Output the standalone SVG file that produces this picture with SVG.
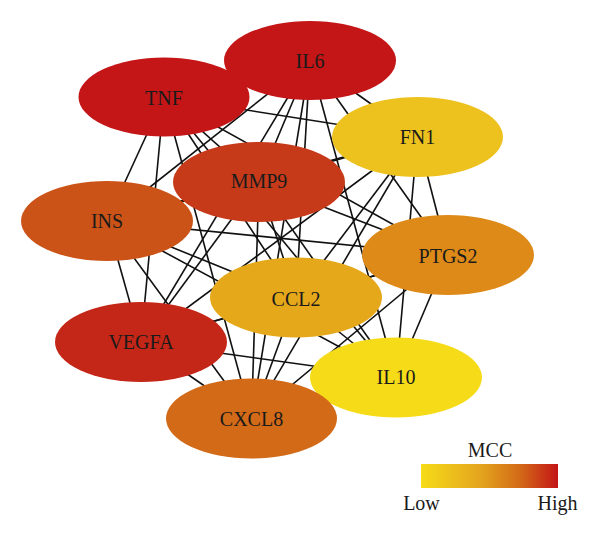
<svg xmlns="http://www.w3.org/2000/svg" width="600" height="537" viewBox="0 0 600 537">
<style>
.e{stroke:#111;stroke-width:1.6;fill:none}
.lbl{font-family:"Liberation Serif","DejaVu Serif",serif;font-size:20px;fill:#1a1a1a;text-anchor:middle}
</style>
<defs>
<linearGradient id="mcc" x1="0" y1="0" x2="1" y2="0">
<stop offset="0" stop-color="#F6DC18"/>
<stop offset="0.45" stop-color="#E3A21E"/>
<stop offset="0.72" stop-color="#D36A17"/>
<stop offset="1" stop-color="#C41517"/>
</linearGradient>
</defs>
<rect width="600" height="537" fill="#fff"/>
<g id="edges">
<line class="e" x1="310" y1="60.5" x2="164" y2="97"/>
<line class="e" x1="310" y1="60.5" x2="417.5" y2="137"/>
<line class="e" x1="310" y1="60.5" x2="259" y2="182"/>
<line class="e" x1="310" y1="60.5" x2="107" y2="221"/>
<line class="e" x1="310" y1="60.5" x2="448" y2="255"/>
<line class="e" x1="310" y1="60.5" x2="296" y2="297.5"/>
<line class="e" x1="310" y1="60.5" x2="141" y2="342"/>
<line class="e" x1="310" y1="60.5" x2="396" y2="377.5"/>
<line class="e" x1="310" y1="60.5" x2="251.5" y2="418.5"/>
<line class="e" x1="164" y1="97" x2="417.5" y2="137"/>
<line class="e" x1="164" y1="97" x2="259" y2="182"/>
<line class="e" x1="164" y1="97" x2="107" y2="221"/>
<line class="e" x1="164" y1="97" x2="448" y2="255"/>
<line class="e" x1="164" y1="97" x2="296" y2="297.5"/>
<line class="e" x1="164" y1="97" x2="141" y2="342"/>
<line class="e" x1="164" y1="97" x2="396" y2="377.5"/>
<line class="e" x1="164" y1="97" x2="251.5" y2="418.5"/>
<line class="e" x1="417.5" y1="137" x2="259" y2="182"/>
<line class="e" x1="417.5" y1="137" x2="107" y2="221"/>
<line class="e" x1="417.5" y1="137" x2="448" y2="255"/>
<line class="e" x1="417.5" y1="137" x2="296" y2="297.5"/>
<line class="e" x1="417.5" y1="137" x2="141" y2="342"/>
<line class="e" x1="417.5" y1="137" x2="396" y2="377.5"/>
<line class="e" x1="417.5" y1="137" x2="251.5" y2="418.5"/>
<line class="e" x1="259" y1="182" x2="107" y2="221"/>
<line class="e" x1="259" y1="182" x2="448" y2="255"/>
<line class="e" x1="259" y1="182" x2="296" y2="297.5"/>
<line class="e" x1="259" y1="182" x2="141" y2="342"/>
<line class="e" x1="259" y1="182" x2="396" y2="377.5"/>
<line class="e" x1="259" y1="182" x2="251.5" y2="418.5"/>
<line class="e" x1="107" y1="221" x2="448" y2="255"/>
<line class="e" x1="107" y1="221" x2="296" y2="297.5"/>
<line class="e" x1="107" y1="221" x2="141" y2="342"/>
<line class="e" x1="107" y1="221" x2="396" y2="377.5"/>
<line class="e" x1="107" y1="221" x2="251.5" y2="418.5"/>
<line class="e" x1="448" y1="255" x2="296" y2="297.5"/>
<line class="e" x1="448" y1="255" x2="141" y2="342"/>
<line class="e" x1="448" y1="255" x2="396" y2="377.5"/>
<line class="e" x1="448" y1="255" x2="251.5" y2="418.5"/>
<line class="e" x1="296" y1="297.5" x2="141" y2="342"/>
<line class="e" x1="296" y1="297.5" x2="396" y2="377.5"/>
<line class="e" x1="296" y1="297.5" x2="251.5" y2="418.5"/>
<line class="e" x1="141" y1="342" x2="396" y2="377.5"/>
<line class="e" x1="141" y1="342" x2="251.5" y2="418.5"/>
<line class="e" x1="396" y1="377.5" x2="251.5" y2="418.5"/>
</g>
<g id="IL6"><ellipse cx="310" cy="60.5" rx="86" ry="39.5" fill="#C41517"/><text class="lbl" x="310" y="67.5">IL6</text></g>
<g id="TNF"><ellipse cx="164" cy="97" rx="85.5" ry="39.5" fill="#C41517"/><text class="lbl" x="164" y="105">TNF</text></g>
<g id="FN1"><ellipse cx="417.5" cy="137" rx="85.5" ry="40" fill="#EEC21E"/><text class="lbl" x="417.5" y="144">FN1</text></g>
<g id="MMP9"><ellipse cx="259" cy="182" rx="86" ry="40" fill="#C63A1A"/><text class="lbl" x="259" y="188">MMP9</text></g>
<g id="INS"><ellipse cx="107" cy="221" rx="86" ry="40" fill="#CB5318"/><text class="lbl" x="107" y="228">INS</text></g>
<g id="PTGS2"><ellipse cx="448" cy="255" rx="86" ry="40" fill="#DD8A19"/><text class="lbl" x="448" y="263">PTGS2</text></g>
<g id="CCL2"><ellipse cx="296" cy="297.5" rx="86" ry="40" fill="#E5A81B"/><text class="lbl" x="296" y="306">CCL2</text></g>
<g id="VEGFA"><ellipse cx="141" cy="342" rx="86" ry="40" fill="#C42617"/><text class="lbl" x="141" y="349">VEGFA</text></g>
<g id="IL10"><ellipse cx="396" cy="377.5" rx="86" ry="40" fill="#F6DC18"/><text class="lbl" x="396" y="383.5">IL10</text></g>
<g id="CXCL8"><ellipse cx="251.5" cy="418.5" rx="85.5" ry="40" fill="#D36A17"/><text class="lbl" x="251.5" y="425.5">CXCL8</text></g>
<g id="legend">
<text class="lbl" x="490" y="457">MCC</text>
<rect x="421" y="464" width="137" height="24" fill="url(#mcc)"/>
<text class="lbl" x="421.5" y="510">Low</text>
<text class="lbl" x="557.5" y="510">High</text>
</g>
</svg>
